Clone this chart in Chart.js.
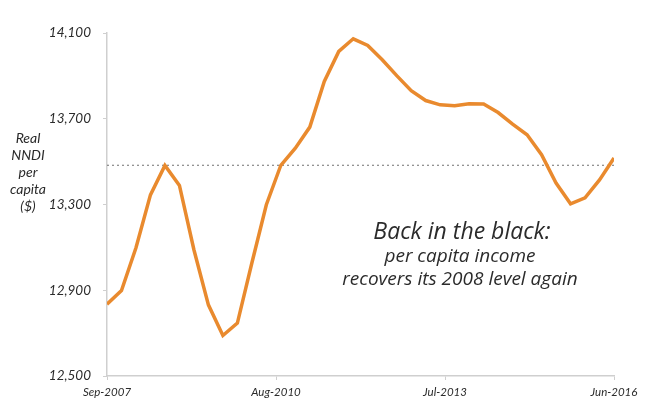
<!DOCTYPE html>
<html>
<head>
<meta charset="utf-8">
<script src="https://cdn.jsdelivr.net/npm/chart.js@4"></script>
<style>
  html, body { margin: 0; padding: 0; background: #fff; }
  #wrap { width: 649px; height: 412px; }
</style>
</head>
<body>
<div id="wrap"><canvas id="chart" width="649" height="412"></canvas></div>
<script>
// quarterly points, months counted from Sep-2007
const months = [];
for (let i = 0; i < 36; i++) months.push(i * 3);

// real NNDI per capita ($)
const nndi = [
  12835, 12899, 13098, 13345, 13482, 13389, 13089, 12832, 12689, 12747,
  13027, 13299, 13483, 13563, 13661, 13874, 14014, 14073, 14042, 13975,
  13901, 13831, 13785, 13765, 13761, 13770, 13769, 13729, 13675, 13625,
  13532, 13400, 13303, 13331, 13415, 13517
];

// 2008 level (dotted reference line)
const level2008 = 13483;

const xTickLabels = { 0: 'Sep-2007', 35: 'Aug-2010', 70: 'Jul-2013', 105: 'Jun-2016' };
const yTitleLines = ['Real', 'NNDI', 'per', 'capita', '($)'];
const noteTitle = 'Back in the black:';
const noteLines = ['per capita income', 'recovers its 2008 level again'];

const textColor = '#2b2b2b';
const axisColor = '#cfcfcf';
const fontFam = 'Lato, "Open Sans", sans-serif';
const noteFam = '"Open Sans", Lato, sans-serif';

const textPlugin = {
  id: 'texts',
  afterDraw(chart) {
    const ctx = chart.ctx;
    ctx.save();
    ctx.fillStyle = textColor;
    ctx.textAlign = 'center';
    ctx.textBaseline = 'middle';
    ctx.font = 'italic 14px ' + fontFam;
    yTitleLines.forEach((t, i) => ctx.fillText(t, 28, 138 + i * 17));

    ctx.font = 'italic 23px ' + noteFam;
    ctx.fillText(noteTitle, 462, 232);
    ctx.font = 'italic 19px ' + noteFam;
    noteLines.forEach((t, i) => ctx.fillText(t, 460, 257 + i * 23));
    ctx.restore();
  }
};

const ctx = document.getElementById('chart');
const myChart = new Chart(ctx, {
  type: 'line',
  data: {
    datasets: [{
      data: months.map((m, i) => ({ x: m, y: nndi[i] })),
      borderColor: '#E98A2E',
      borderWidth: 3.5,
      pointRadius: 0,
      tension: 0,
      order: 1
    }, {
      data: [{ x: 0, y: level2008 }, { x: 105, y: level2008 }],
      borderColor: '#707070',
      borderWidth: 1.2,
      borderDash: [2, 3],
      pointRadius: 0,
      order: 2
    }]
  },
  options: {
    responsive: false,
    animation: false,
    layout: { padding: { left: 0, right: 35, top: 33, bottom: 0 } },
    plugins: { legend: { display: false }, tooltip: { enabled: false } },
    scales: {
      x: {
        type: 'linear',
        min: 0,
        max: 105,
        afterFit: s => { s.height = 36; },
        afterBuildTicks: s => { s.ticks = [0, 35, 70, 105].map(v => ({ value: v })); },
        ticks: {
          callback: v => xTickLabels[v] || '',
          color: textColor,
          font: { family: fontFam, style: 'italic', size: 11.5 },
          padding: 5,
          maxRotation: 0
        },
        grid: { drawOnChartArea: false, drawTicks: true, tickLength: 4, color: axisColor },
        border: { color: axisColor, width: 1.5 }
      },
      y: {
        min: 12500,
        max: 14100,
        afterFit: s => { s.width = 107; },
        ticks: {
          stepSize: 400,
          callback: v => v.toLocaleString('en-US'),
          color: textColor,
          font: { family: fontFam, style: 'italic', size: 13.5 },
          padding: 12
        },
        grid: { drawOnChartArea: false, drawTicks: true, tickLength: 4, color: axisColor },
        border: { color: axisColor, width: 1.5 }
      }
    }
  },
  plugins: [textPlugin]
});
</script>
</body>
</html>
